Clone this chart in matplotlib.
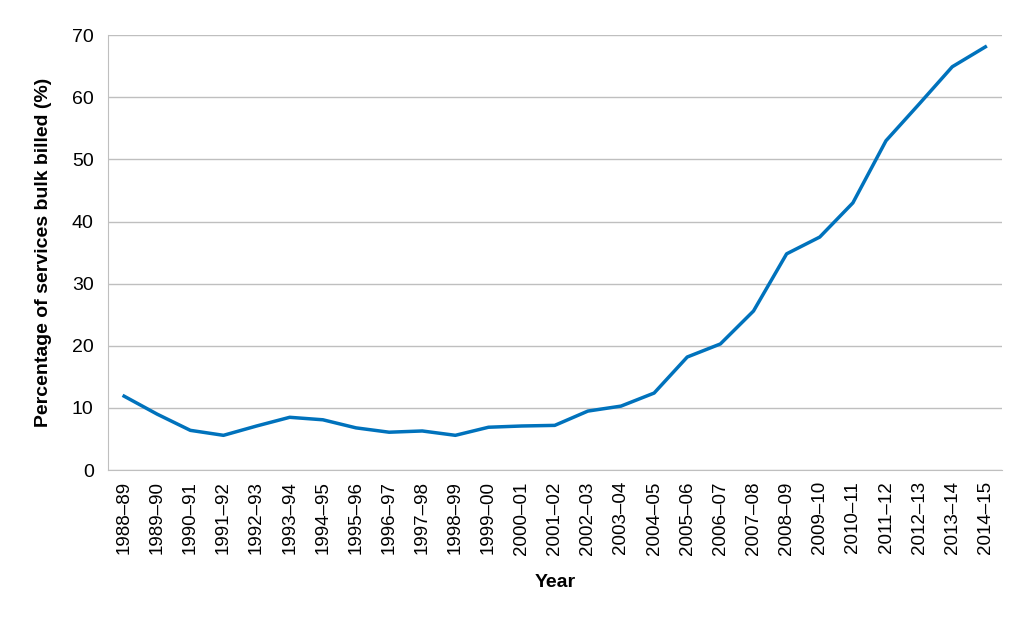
import matplotlib
matplotlib.use("Agg")
import matplotlib.pyplot as plt

plt.rcParams["font.family"] = "Liberation Sans"

years = ["1988–89", "1989–90", "1990–91", "1991–92", "1992–93", "1993–94", "1994–95",
         "1995–96", "1996–97", "1997–98", "1998–99", "1999–00", "2000–01", "2001–02",
         "2002–03", "2003–04", "2004–05", "2005–06", "2006–07", "2007–08", "2008–09",
         "2009–10", "2010–11", "2011–12", "2012–13", "2013–14", "2014–15"]
bulk_billed = [11.9, 9.0, 6.4, 5.6, 7.1, 8.5, 8.1, 6.8, 6.1, 6.3, 5.6, 6.9, 7.1, 7.2,
               9.5, 10.3, 12.4, 18.2, 20.3, 25.6, 34.8, 37.5, 43.0, 53.0, 58.9, 64.9, 68.1]
y_ticks = [0, 10, 20, 30, 40, 50, 60, 70]

fig = plt.figure(figsize=(10.34, 6.26), dpi=100)
ax = fig.add_axes([0.104, 0.249, 0.865, 0.695])

x = list(range(len(years)))
ax.plot(x, bulk_billed, color="#0072bc", linewidth=2.5)

ax.set_xlim(-0.5, len(years) - 0.5)
ax.set_ylim(0, 70)
ax.set_yticks(y_ticks)
ax.set_xticks(x)
ax.set_xticklabels(years, rotation=90, fontsize=13.5)
ax.tick_params(axis="y", labelsize=14, length=0, pad=10)
ax.tick_params(axis="x", length=0, pad=8)
ax.grid(axis="y", color="#bfbfbf", linewidth=1)
ax.set_axisbelow(True)
for s in ["top", "right"]:
    ax.spines[s].set_visible(False)
ax.spines["left"].set_color("#bfbfbf")
ax.spines["bottom"].set_color("#bfbfbf")

ax.set_ylabel("Percentage of services bulk billed (%)", fontsize=14, fontweight="bold", labelpad=14)
ax.set_xlabel("Year", fontsize=14, fontweight="bold", labelpad=14)

fig.savefig("out.png", dpi=100)
